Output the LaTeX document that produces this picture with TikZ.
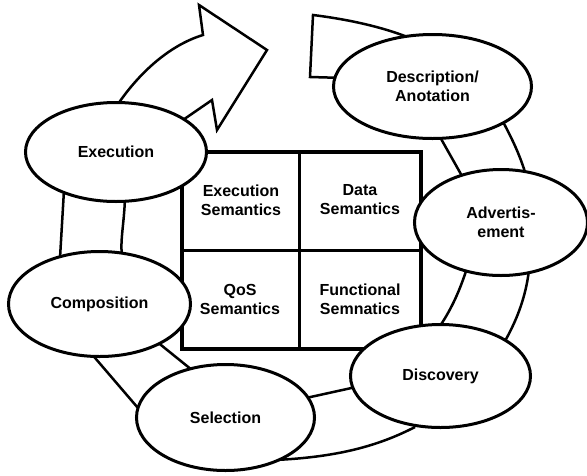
\documentclass[tikz,border=0pt]{standalone}
\usepackage{fontspec}
\setmainfont{Liberation Sans}
\usetikzlibrary{shapes.geometric}
\tikzset{
  band/.style={line width=2.5pt, line join=miter},
  proc/.style={ellipse, draw, fill=white, line width=3pt, inner sep=0pt, align=center,
    font=\fontsize{16}{19}\selectfont\bfseries},
  cell/.style={align=center, font=\fontsize{16}{19}\selectfont\bfseries}
}
\begin{document}
\begin{tikzpicture}[x=1pt,y=-1pt]
\useasboundingbox (0,0) rectangle (587,475);
% ---- cycle band ----
% tail near Description
\draw[band] (345,78) -- (310,77) -- (313,15) .. controls (345,19) and (380,26) .. (410,38);
% Description -> Advertisement
\draw[band] (440,137) -- (462,176);
\draw[band] (500,116) .. controls (510,135) and (518,150) .. (525,172);
% Advertisement -> Discovery
\draw[band] (467,268) .. controls (460,290) and (452,308) .. (440,326);
\draw[band] (529,270) .. controls (526,295) and (518,318) .. (505,341);
% Discovery -> Selection
\draw[band] (356,387) -- (306,398);
\draw[band] (415,427) .. controls (380,445) and (340,457) .. (275,460);
% Selection -> Composition
\draw[band] (192,370) -- (156,341);
\draw[band] (138,408) -- (90,352);
% Composition -> Execution
\draw[band] (64,190) -- (60,258);
\draw[band] (125,198) .. controls (124,225) and (120,240) .. (122,256);
% Execution -> arrow head
\draw[band] (118,104) .. controls (140,72) and (170,45) .. (203,35)
  -- (199,5) -- (267,50) -- (217,130) -- (212,100) -- (180,122);
% ---- central grid ----
\draw[line width=4pt] (182,152) rectangle (421,349);
\draw[line width=3pt] (299,152) -- (299,349);
\draw[line width=3pt] (182,250) -- (421,250);
\node[cell] (es) at (241,200) {Execution\\Semantics};
\node[cell] (ds) at (360,200) {Data\\Semantics};
\node[cell] (qs) at (240,299) {QoS\\Semantics};
\node[cell] (fs) at (360,299) {Functional\\Semnatics};
% ---- process ellipses ----
\node[proc, minimum width=181pt, minimum height=99pt] (exec) at (116,152) {Execution};
\node[proc, minimum width=198pt, minimum height=104pt] (desc) at (432.5,86.5) {Description/\\Anotation};
\node[proc, minimum width=173pt, minimum height=106pt] (adv) at (501,222.5) {Advertis-\\ement};
\node[proc, minimum width=180pt, minimum height=103pt] (disc) at (440.5,376) {Discovery};
\node[proc, minimum width=178pt, minimum height=106pt] (sel) at (225.5,417.5) {Selection};
\node[proc, minimum width=182pt, minimum height=105pt] (comp) at (99.5,304) {Composition};
\end{tikzpicture}
\end{document}
